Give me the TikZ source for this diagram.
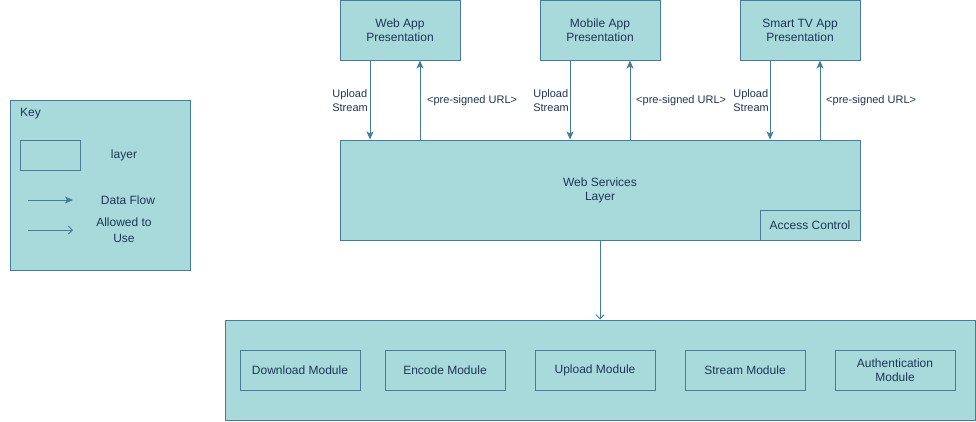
\documentclass[tikz,border=0pt]{standalone}
\usepackage{fontspec}
\setmainfont{Liberation Sans}
\usetikzlibrary{arrows.meta}
\definecolor{boxfill}{HTML}{A8DADC}
\definecolor{boxline}{HTML}{457B9D}
\definecolor{boxtext}{HTML}{1D3557}

\begin{document}
\begin{tikzpicture}[x=1pt, y=-1pt,
    layerbox/.style={shape=rectangle, draw=boxline, fill=boxfill, line width=1pt,
      text=boxtext, align=center, inner sep=0pt, font=\fontsize{12}{14}\selectfont},
    lbl/.style={text=boxtext, inner sep=0pt, font=\fontsize{11}{14}\selectfont},
    keytext/.style={text=boxtext, inner sep=0pt, align=center, font=\fontsize{12}{16}\selectfont},
    flow/.style={draw=boxline, line width=1pt, -{Stealth[length=8pt, width=7pt, inset=2pt]}},
    uses/.style={draw=boxline, line width=1pt, -{Straight Barb[length=4pt, width=8pt]}}]
      \useasboundingbox (0,0) rectangle (976,421);

      % key
      \node[layerbox, minimum width=180pt, minimum height=170pt] (key) at (100,185) {};
      \node[keytext, anchor=west] (keytitle) at (20,114) {Key};
      \node[shape=rectangle, draw=boxline, line width=1pt, minimum width=60pt, minimum height=30pt] (keylayer) at (50,155) {};
      \node[keytext] (keylayertext) at (124,155) {layer};
      \coordinate (flowA) at (28,200);
      \coordinate (flowB) at (73,200);
      \node[keytext] (flowtext) at (128,200) {Data Flow};
      \coordinate (usesA) at (28,230);
      \coordinate (usesB) at (73,230);
      \node[keytext] (usestext) at (124,230) {Allowed to\\Use};
      \draw [flow] (flowA) -- (flowB);
      \draw [uses] (usesA) -- (usesB);

      % presentation layer
      \node[layerbox, minimum width=120pt, minimum height=60pt] (webapp) at (400,30) {Web App\\Presentation};
      \node[layerbox, minimum width=120pt, minimum height=60pt] (mobileapp) at (600,30) {Mobile App\\Presentation};
      \node[layerbox, minimum width=120pt, minimum height=60pt] (tvapp) at (800,30) {Smart TV App\\Presentation};

      % web services
      \node[layerbox, minimum width=520pt, minimum height=100pt] (websvc) at (600,190) {Web Services\\Layer};
      \node[layerbox, minimum width=100pt, minimum height=30pt] (access) at (810,225) {Access Control};

      % modules
      \node[layerbox, minimum width=750pt, minimum height=100pt] (modules) at (600,370) {};
      \node[layerbox, minimum width=120pt, minimum height=40pt] (download) at (300,370) {Download Module};
      \node[layerbox, minimum width=120pt, minimum height=40pt] (encode) at (445,370) {Encode Module};
      \node[layerbox, minimum width=120pt, minimum height=40pt] (upload) at (595,370) {Upload Module};
      \node[layerbox, minimum width=120pt, minimum height=40pt] (stream) at (745,370) {Stream Module};
      \node[layerbox, minimum width=120pt, minimum height=40pt] (auth) at (895,370) {Authentication\\Module};

      % connectors
      \draw [flow] ([xshift=-30pt]webapp.south) -- ([xshift=-30pt]webapp.south |- websvc.north);
      \draw [flow] ([xshift=20pt]webapp.south |- websvc.north) -- ([xshift=20pt]webapp.south);
      \draw [flow] ([xshift=-30pt]mobileapp.south) -- ([xshift=-30pt]mobileapp.south |- websvc.north);
      \draw [flow] ([xshift=30pt]mobileapp.south |- websvc.north) -- ([xshift=30pt]mobileapp.south);
      \draw [flow] ([xshift=-30pt]tvapp.south) -- ([xshift=-30pt]tvapp.south |- websvc.north);
      \draw [flow] ([xshift=20pt]tvapp.south |- websvc.north) -- ([xshift=20pt]tvapp.south);
      \draw [uses] (websvc.south) -- (modules.north);

      % connector labels
      \node[lbl, anchor=east, align=left] (webup) at (368,101) {Upload\\Stream};
      \node[lbl, anchor=west] (weburl) at (427,101) {<pre-signed URL>};
      \node[lbl, anchor=east, align=left] (mobileup) at (569,101) {Upload\\Stream};
      \node[lbl, anchor=west] (mobileurl) at (636,101) {<pre-signed URL>};
      \node[lbl, anchor=east, align=left] (tvup) at (769,101) {Upload\\Stream};
      \node[lbl, anchor=west] (tvurl) at (826,101) {<pre-signed URL>};
    \end{tikzpicture}
\end{document}
